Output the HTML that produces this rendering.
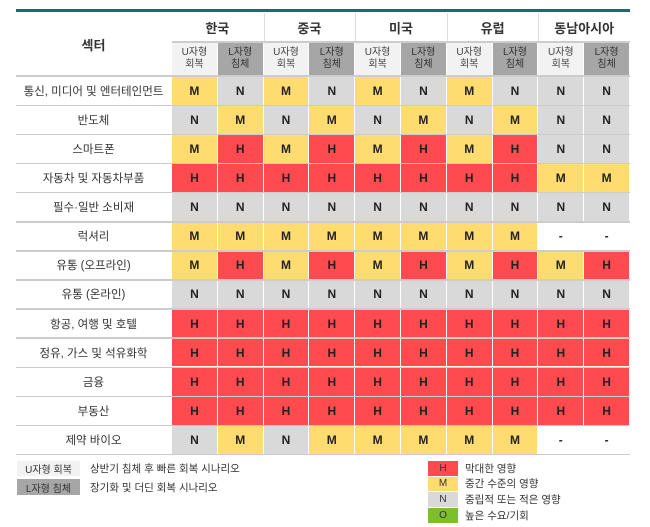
<!DOCTYPE html><html><head><meta charset="utf-8"><style>
body{margin:0;width:650px;height:527px;background:#fff;font-family:"Liberation Sans","Noto Sans CJK KR",sans-serif;position:relative;overflow:hidden;color:#333}
div.a{position:absolute;display:flex;align-items:center;justify-content:center;text-align:center;box-sizing:border-box}
</style></head><body>
<div class="a" style="left:16px;top:9px;width:614px;height:3px;background:#156e6e"></div>
<script>
function d(x,y,w,h,bg,t,st){document.write('<div class="a" style="left:'+x+'px;top:'+y+'px;width:'+w+'px;height:'+h+'px;background:'+bg+';'+(st||'')+'">'+t+'</div>');}
var C={H:'#ff4b4f',M:'#ffdc70',N:'#d9d9d9','-':'#fff'};
d(16,13,155,62,'#fff','섹터','font-weight:bold;font-size:13px');
var reg=['한국','중국','미국','유럽','동남아시아'];
var x0=172,cw=45.8;
for(var i=0;i<5;i++){d(x0+i*2*cw,13,2*cw-1,28,'#fff',reg[i],'font-weight:bold;font-size:13px;border-left:'+(i?'1px solid #ddd':'0'));
d(x0+i*2*cw,43,cw-1,32,'#f2f2f2','U자형<br>회복','font-size:10px;line-height:12px;color:#444');
d(x0+i*2*cw+cw,43,cw-1,32,'#a6a6a6','L자형<br>침체','font-size:10px;line-height:12px;color:#333');}
d(172,41,458,2,'#ccc','');
d(16,75,614,2,'#ccc','');
var rows=[['통신, 미디어 및 엔터테인먼트','MNMNMNMNNN'],['반도체','NMNMNMNMNN'],['스마트폰','MHMHMHMHNN'],['자동차 및 자동차부품','HHHHHHHHMM'],['필수·일반 소비재','NNNNNNNNNN'],['럭셔리','MMMMMMMM--'],['유통 (오프라인)','MHMHMHMHMH'],['유통 (온라인)','NNNNNNNNNN'],['항공, 여행 및 호텔','HHHHHHHHHH'],['정유, 가스 및 석유화학','HHHHHHHHHH'],['금융','HHHHHHHHHH'],['부동산','HHHHHHHHHH'],['제약 바이오','NMNMMMMM--']];
var y0=77,rh=29.1;
for(var r=0;r<13;r++){var y=y0+r*rh;
d(16,y,155,rh-1.5,'#fff',rows[r][0],'font-size:11.5px');
for(var c=0;c<10;c++){var v=rows[r][1][c];d(x0+c*cw,y,cw-1,rh-1.5,C[v],v,'font-size:12px;font-weight:bold;color:#222');}
d(16,y+rh-1.5,614,1.5,'#ccc','');}
d(17,461,63,15,'#f2f2f2','U자형 회복','font-size:10px');
d(17,479,63,16,'#a6a6a6','L자형 침체','font-size:10px');
d(90,461,200,15,'#fff','상반기 침체 후 빠른 회복 시나리오','font-size:10.5px;justify-content:flex-start');
d(90,479,200,16,'#fff','장기화 및 더딘 회복 시나리오','font-size:10.5px;justify-content:flex-start');
var L=[['H','#ff4b4f','막대한 영향'],['M','#ffdc70','중간 수준의 영향'],['N','#d9d9d9','중립적 또는 적은 영향'],['O','#7cbf2a','높은 수요/기회']];
for(var i=0;i<4;i++){d(428,461+i*15.7,30,14.5,L[i][1],L[i][0],'font-size:10px');d(465,461+i*15.7,170,14.5,'#fff',L[i][2],'font-size:10.5px;justify-content:flex-start');}
</script>
</body></html>
